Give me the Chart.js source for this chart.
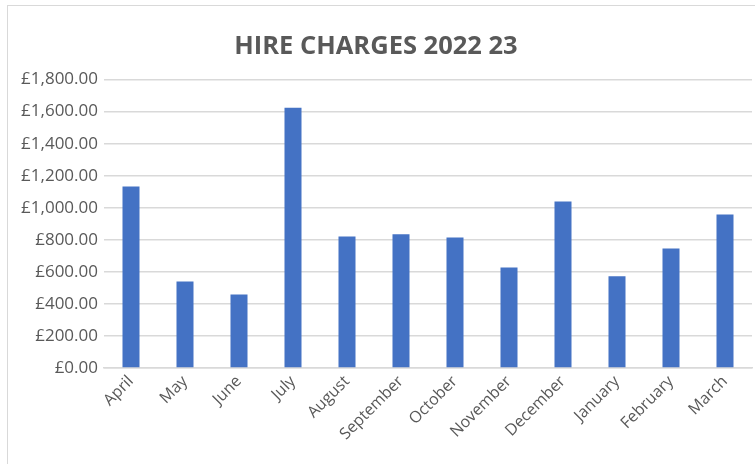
<!DOCTYPE html>
<html>
<head>
<meta charset="utf-8">
<script src="https://cdn.jsdelivr.net/npm/chart.js@4"></script>
<style>
  html, body { margin: 0; padding: 0; background: #ffffff; }
  #wrap { position: relative; width: 755px; height: 464px; overflow: hidden; }
  #frame { position: absolute; left: 7px; top: 5px; width: 800px; height: 500px;
           border-left: 1.5px solid #d9d9d9; border-top: 1.5px solid #d9d9d9; box-sizing: border-box; pointer-events: none; }
  canvas { position: absolute; left: 0; top: 0; }
</style>
</head>
<body>
<div id="wrap">
  <canvas id="c" width="755" height="464"></canvas>
  <div id="frame"></div>
</div>
<script>
const titleText = "HIRE CHARGES 2022 23";
const months = ["April", "May", "June", "July", "August", "September", "October", "November", "December", "January", "February", "March"];
const hireCharges = [1133, 540, 459, 1625, 821, 834, 815, 628, 1039, 572, 746, 958];
const yMin = 0;
const yMax = 1800;
const yStep = 200;

const fmt = v => "£" + v.toLocaleString("en-GB", { minimumFractionDigits: 2, maximumFractionDigits: 2 });

new Chart(document.getElementById("c"), {
  type: "bar",
  data: {
    labels: months,
    datasets: [{
      label: "Hire charges",
      data: hireCharges,
      backgroundColor: "#4472c4",
      borderWidth: 0,
      categoryPercentage: 1,
      barPercentage: 0.315
    }]
  },
  options: {
    responsive: false,
    animation: false,
    devicePixelRatio: 1,
    layout: { padding: { left: 0, right: 3, top: 0, bottom: 0 } },
    plugins: {
      legend: { display: false },
      tooltip: { enabled: false },
      title: {
        display: true,
        text: titleText,
        color: "#595959",
        font: { family: "Open Sans", size: 25.5, weight: "bold", lineHeight: 1.2 },
        padding: { top: 31, bottom: 18 }
      }
    },
    scales: {
      x: {
        grid: { display: false, drawTicks: false },
        border: { display: true, color: "#d9d9d9", width: 1.5 },
        ticks: {
          color: "#595959",
          font: { family: "Open Sans", size: 16 },
          maxRotation: 45,
          minRotation: 45,
          padding: 4,
          autoSkip: false
        },
        afterFit: s => { s.height = 96; }
      },
      y: {
        min: yMin,
        max: yMax,
        ticks: {
          stepSize: yStep,
          color: "#595959",
          font: { family: "Open Sans", size: 17 },
          padding: 6,
          callback: v => fmt(v)
        },
        grid: { color: "#d9d9d9", lineWidth: 1.5, drawTicks: false },
        border: { display: false },
        afterFit: s => { s.width = 104; }
      }
    }
  }
});
</script>
</body>
</html>
